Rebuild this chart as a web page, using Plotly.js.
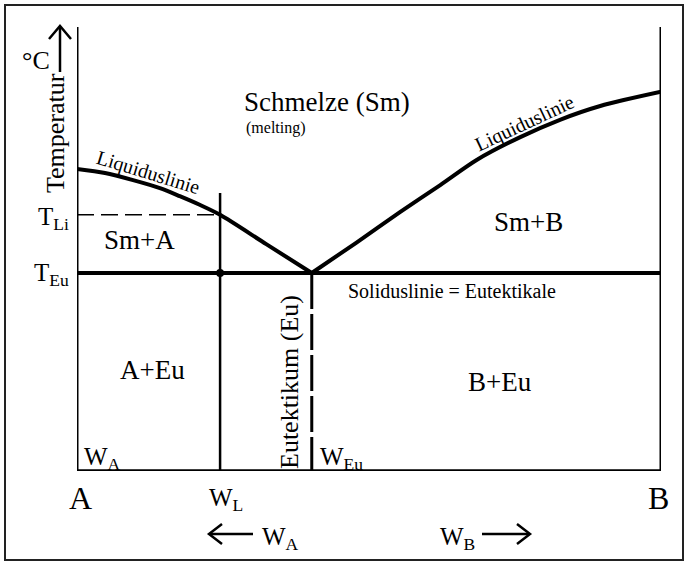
<!DOCTYPE html>
<html>
<head>
<meta charset="utf-8">
<script src="https://cdn.plot.ly/plotly-3.0.1.min.js"></script>
<style>html,body{margin:0;padding:0;background:#fff;}#chart{width:693px;height:568px;}</style>
</head>
<body>
<div id="chart"></div>
<script>
// ---- data (composition x: 0 = A, 100 = B; temperature y in arbitrary units) ----
const liqLeftX  = [0, 4.8, 9.6, 14.2, 17.6, 21.1, 24.5, 32.4, 40.2];
const liqLeftY  = [68.0, 67.1, 65.5, 63.7, 61.9, 59.9, 57.7, 51.1, 44.6];
const liqRightX = [40.2, 47.8, 55.3, 62.2, 68.5, 75.9, 82.7, 89.6, 100];
const liqRightY = [44.6, 51.4, 58.3, 64.4, 70.1, 75.2, 79.1, 82.2, 85.4];
const compA = 0, compB = 100;
const compL = 24.5, compEu = 40.2;
const tempEu = 44.6, tempLi = 57.7, tempTop = 100, tempLTop = 62.6, tempBottom = 0;

// ---- layout helpers (pixel -> paper) ----
const L = 77, R = 661, T = 27, B = 471;
const px = x => (x - L) / (R - L);
const py = y => (B - y) / (B - T);
const serif = 'Liberation Serif, Times New Roman, serif';

const blk = '#000';
const traces = [
  {x: liqLeftX, y: liqLeftY, mode: 'lines', line: {color: blk, width: 4, shape: 'spline', smoothing: 0.8}},
  {x: liqRightX, y: liqRightY, mode: 'lines', line: {color: blk, width: 4, shape: 'spline', smoothing: 0.8}},
  // frame of diagram
  {x: [compA, compA], y: [tempBottom, tempTop], mode: 'lines', line: {color: blk, width: 3}},
  {x: [compB, compB], y: [tempBottom, tempTop], mode: 'lines', line: {color: blk, width: 3}},
  {x: [compA, compB], y: [tempBottom, tempBottom], mode: 'lines', line: {color: blk, width: 3.5}},
  // eutectic horizontal
  {x: [compA, compB], y: [tempEu, tempEu], mode: 'lines', line: {color: blk, width: 4}},
  // T_Li dashed
  {x: [compA, compL], y: [tempLi, tempLi], mode: 'lines', line: {color: blk, width: 1.5, dash: '17px,7px'}},
  // W_L vertical
  {x: [compL, compL], y: [tempBottom, tempLTop], mode: 'lines', line: {color: blk, width: 2.5}},
  // eutectic vertical dashed
  {x: [compEu, compEu], y: [tempEu, tempBottom], mode: 'lines', line: {color: blk, width: 3, dash: '36px,5px'}},
  // dot
  {x: [compL], y: [tempEu], mode: 'markers', marker: {color: blk, size: 8}, cliponaxis: false}
];

function ann(text, x, y, size, opts) {
  return Object.assign({text: text, x: px(x), y: py(y), xref: 'paper', yref: 'paper',
    showarrow: false, xanchor: 'center', yanchor: 'middle',
    font: {family: serif, size: size, color: '#000'}}, opts || {});
}

const annotations = [
  ann('Schmelze (Sm)', 327, 102, 27),
  ann('(melting)', 276, 128, 16),
  ann('Liquiduslinie', 148, 172, 20, {textangle: 17}),
  ann('Liquiduslinie', 524, 123, 20, {textangle: -25}),
  ann('Sm+A', 139, 240, 27),
  ann('Sm+B', 528, 222, 27),
  ann('Soliduslinie = Eutektikale', 452, 291, 20),
  ann('A+Eu', 152, 370, 27),
  ann('B+Eu', 500, 382, 27),
  ann('Eutektikum (Eu)', 289, 382, 26, {textangle: -90}),
  ann('W<sub>A</sub>', 82, 458, 25, {xanchor: 'left'}),
  ann('W<sub>Eu</sub>', 318, 458, 25, {xanchor: 'left'}),
  ann('T<sub>Li</sub>', 71, 218, 25, {xanchor: 'right'}),
  ann('T<sub>Eu</sub>', 71, 274, 25, {xanchor: 'right'}),
  ann('Temperatur', 55, 133, 26, {textangle: -90}),
  ann('°C', 36, 60, 26),
  ann('A', 80, 498, 32),
  ann('W<sub>L</sub>', 226, 499, 25),
  ann('B', 658, 498, 32),
  ann('W<sub>A</sub>', 260, 538, 25, {xanchor: 'left'}),
  ann('W<sub>B</sub>', 457, 538, 25)
];

function pathFromPx(points) {
  return points.map((p, i) => (i ? 'L' : 'M') + px(p[0]).toFixed(5) + ',' + py(p[1]).toFixed(5)).join(' ');
}
const arrowLine = {color: '#000', width: 2.5};
const shapes = [
  // outer frame
  {type: 'rect', xref: 'paper', yref: 'paper', x0: px(5), x1: px(683), y0: py(5), y1: py(560),
   line: {color: '#222', width: 2}},
  // up arrow
  {type: 'path', xref: 'paper', yref: 'paper', path: pathFromPx([[60, 72], [60, 27]]), line: arrowLine},
  {type: 'path', xref: 'paper', yref: 'paper', path: pathFromPx([[49, 39], [60, 26], [71, 39]]), line: arrowLine},
  // left arrow
  {type: 'path', xref: 'paper', yref: 'paper', path: pathFromPx([[253, 534], [210, 534]]), line: arrowLine},
  {type: 'path', xref: 'paper', yref: 'paper', path: pathFromPx([[222, 524], [209, 534], [222, 544]]), line: arrowLine},
  // right arrow
  {type: 'path', xref: 'paper', yref: 'paper', path: pathFromPx([[482, 534], [529, 534]]), line: arrowLine},
  {type: 'path', xref: 'paper', yref: 'paper', path: pathFromPx([[517, 524], [530, 534], [517, 544]]), line: arrowLine}
];

const hidden = {visible: false, showgrid: false, zeroline: false, fixedrange: true};
const layout = {
  width: 693, height: 568,
  margin: {l: L, r: 693 - R, t: T, b: 568 - B, pad: 0},
  paper_bgcolor: '#fff', plot_bgcolor: '#fff',
  showlegend: false,
  xaxis: Object.assign({range: [0, 100]}, hidden),
  yaxis: Object.assign({range: [0, 100]}, hidden),
  annotations: annotations,
  shapes: shapes
};
Plotly.newPlot('chart', traces, layout, {staticPlot: true, displayModeBar: false});
</script>
</body>
</html>
